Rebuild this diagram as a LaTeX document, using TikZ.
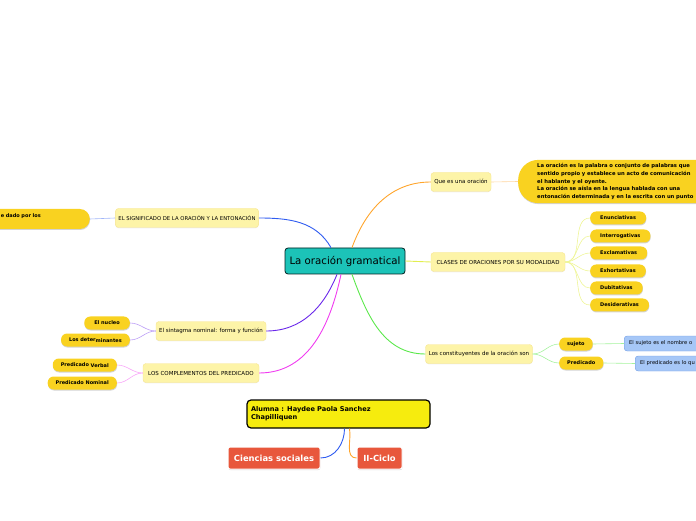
\documentclass[tikz,border=0pt]{standalone}
\usepackage{fontspec}
\setmainfont{DejaVu Sans}
\usepackage{tikz}
\usetikzlibrary{shadows}

\definecolor{centrefill}{HTML}{1CC3B8}
\definecolor{topicfill}{HTML}{FDF4A8}
\definecolor{topicline}{HTML}{F7E58F}
\definecolor{leaffill}{HTML}{F9D220}
\definecolor{notefill}{HTML}{A6C7F7}
\definecolor{noteline}{HTML}{6F9CE6}
\definecolor{namefill}{HTML}{F6EC0E}
\definecolor{coursefill}{HTML}{E8573C}
\definecolor{orangebr}{HTML}{FFA52C}
\definecolor{limebr}{HTML}{E2EE50}
\definecolor{greenbr}{HTML}{5CE84C}
\definecolor{bluebr}{HTML}{2F5CF0}
\definecolor{purplebr}{HTML}{6A28EA}
\definecolor{pinkbr}{HTML}{F03CF0}

\begin{document}
\begin{tikzpicture}[x=1pt,y=1pt]
  \tikzstyle{centre}=[rounded corners=3pt,fill=centrefill,draw=black!75!teal,line width=0.8pt,
    minimum width=120pt,minimum height=26pt,font=\fontsize{10.2}{12}\selectfont]
  \tikzstyle{topic}=[rounded corners=3pt,fill=topicfill,draw=topicline,minimum height=19pt,
    inner xsep=3pt,font=\fontsize{5.5}{6}\selectfont,
    drop shadow={shadow xshift=0pt,shadow yshift=-0.8pt,opacity=0.12}]
  \tikzstyle{leaf}=[rounded corners=6pt,fill=leaffill,minimum height=13pt,inner xsep=10pt,
    font=\bfseries\fontsize{5}{6}\selectfont,
    drop shadow={shadow xshift=0.3pt,shadow yshift=-1pt,opacity=0.35}]
  \tikzstyle{note}=[rounded corners=3pt,fill=notefill,draw=noteline,minimum height=15pt,
    minimum width=90pt,text width=80pt,align=left,inner xsep=4pt,font=\fontsize{5.2}{6}\selectfont]
  \tikzstyle{bignote}=[rounded corners=20pt,fill=leaffill,minimum height=43pt,text width=230pt,
    align=left,inner xsep=19pt,font=\bfseries\fontsize{5.25}{7.8}\selectfont,
    drop shadow={shadow xshift=0.3pt,shadow yshift=-1pt,opacity=0.35}]
  \tikzstyle{student}=[rounded corners=4pt,fill=namefill,draw=black,line width=1.2pt,
    minimum width=183pt,minimum height=28pt,text width=175pt,align=left,
    font=\bfseries\fontsize{6.6}{8}\selectfont]
  \tikzstyle{course}=[rounded corners=2pt,fill=coursefill,draw=white,line width=1pt,text=white,
    minimum height=22pt,inner xsep=2pt,font=\bfseries\fontsize{8.4}{9}\selectfont,
    drop shadow={shadow xshift=0.3pt,shadow yshift=-1pt,opacity=0.3}]
  \tikzstyle{branch}=[line width=0.9pt]
  \tikzstyle{twig}=[line width=0.6pt]

  \useasboundingbox (0,0) rectangle (696,520);
  \clip (0,0) rectangle (696,520);

  % centre
  \node[centre] (centre) at (345,259) {La oración gramatical};

  % right side
  \node[topic,minimum width=60pt] (quees) at (461,338) {Que es una oración};
  \node[bignote,anchor=west] (def) at (518,338.5) {La oración es la palabra o conjunto de palabras que\\
    sentido propio y establece un acto de comunicación\\
    el hablante y el oyente.\\
    La oración se aísla en la lengua hablada con una\\
    entonación determinada y en la escrita con un punto};
  \draw[twig,orangebr!45] (quees.east) -- (def.west);

  \node[topic,minimum width=134pt] (clases) at (498,258) {CLASES DE ORACIONES POR SU MODALIDAD};
  \foreach \kind/\ypos [count=\i] in {Enunciativas/302,Interrogativas/284,Exclamativas/267,
      Exhortativas/249,Dubitativas/232,Desiderativas/215} {
    \node[leaf,anchor=west] (mod\i) at (590,\ypos) {\kind};
    \draw[twig,limebr!60] (clases.east) to[out=0,in=180] (mod\i.west);
  }

  \node[topic,minimum width=107pt] (const) at (479,166) {Los constituyentes de la oración son};
  \node[leaf,anchor=west,inner xsep=8pt] (sujeto) at (559,176) {sujeto};
  \node[leaf,anchor=west,inner xsep=8pt] (pred) at (559,157) {Predicado};
  \node[note,anchor=west] (sujnote) at (624,176.5) {El sujeto es el nombre o};
  \node[note,anchor=west] (prednote) at (635,156.5) {El predicado es lo qu};
  \draw[twig,greenbr!55] (const.east) to[out=0,in=180] (sujeto.west);
  \draw[twig,greenbr!55] (const.east) to[out=0,in=180] (pred.west);
  \draw[twig,greenbr!55] (sujeto.east) -- (sujnote.west);
  \draw[twig,greenbr!55] (pred.east) -- (prednote.west);

  % left side
  \node[topic,minimum width=142pt,font=\fontsize{5.3}{6}\selectfont] (signif) at (187,302)
    {EL SIGNIFICADO DE LA ORACIÓN Y LA ENTONACIÓN};
  \node[bignote,anchor=east,rounded corners=10pt,minimum height=20pt,text width=69pt,
    inner xsep=20pt,font=\bfseries\fontsize{5}{7}\selectfont] (entonacion) at (90,301)
    {e dado por los\\\mbox{}};
  \draw[twig,bluebr!45] (signif.west) -- (entonacion.east);

  \node[topic,minimum width=110pt] (sintagma) at (211,189) {El sintagma nominal: forma y función};
  \node[leaf,anchor=east] (nucleo) at (130,197) {El nucleo};
  \node[leaf,anchor=east,inner xsep=8pt] (determ) at (130,180) {Los deter\raisebox{-1pt}{minantes}};
  \draw[twig,purplebr!45] (sintagma.west) to[out=180,in=0] (nucleo.east);
  \draw[twig,purplebr!45] (sintagma.west) to[out=180,in=0] (determ.east);

  \node[topic,minimum width=116pt] (compl) at (201,147) {LOS COMPLEMENTOS DEL PREDICADO};
  \node[leaf,anchor=east,inner xsep=8pt] (verbal) at (117,155) {Predicado \raisebox{-0.6pt}{Verbal}};
  \node[leaf,anchor=east,inner xsep=8pt] (nominal) at (117,137) {Predicado Nominal};
  \draw[twig,pinkbr!45] (compl.west) to[out=180,in=0] (verbal.east);
  \draw[twig,pinkbr!45] (compl.west) to[out=180,in=0] (nominal.east);

  % branches from the centre
  \draw[branch,orangebr] ([xshift=7pt]centre.north) to[out=70,in=180] (quees.west);
  \draw[branch,limebr] (centre.east) -- (clases.west);
  \draw[branch,greenbr] ([xshift=7pt]centre.south) to[out=-70,in=180] (const.west);
  \draw[branch,bluebr] ([xshift=-14pt]centre.north) to[out=120,in=0] (signif.east);
  \draw[branch,purplebr] ([xshift=-8pt]centre.south) to[out=-112,in=0] (sintagma.east);
  \draw[branch,pinkbr] ([xshift=-4pt]centre.south) to[out=-102,in=0] (compl.east);

  % student
  \node[student] (alumna) at (338.5,106) {Alumna : Haydee Paola Sanchez\\Chapilliquen};
  \node[course,minimum width=92pt] (ciencias) at (274,62) {Ciencias sociales};
  \node[course,minimum width=45pt] (ciclo) at (379.5,62) {II-Ciclo};
  \draw[branch,bluebr] ([xshift=6pt]alumna.south) to[out=-90,in=0] (ciencias.east);
  \draw[branch,orangebr] ([xshift=11pt]alumna.south) to[out=-80,in=180] (ciclo.west);
\end{tikzpicture}
\end{document}
